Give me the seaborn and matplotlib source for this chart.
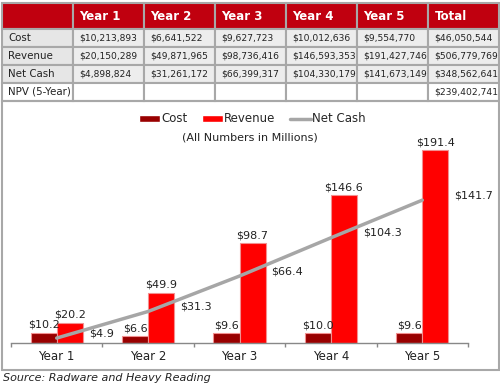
import seaborn as sns
import matplotlib.pyplot as plt
import matplotlib.patches as mpatches
import matplotlib.lines as mlines
import pandas as pd

# DATA
years = ['Year 1', 'Year 2', 'Year 3', 'Year 4', 'Year 5']
cost = [10213893, 6641522, 9627723, 10012636, 9554770]
revenue = [20150289, 49871965, 98736416, 146593353, 191427746]
net_cash = [4898824, 31261172, 66399317, 104330179, 141673149]
npv_5yr = 239402741

COST_COLOR = '#990000'
REV_COLOR = '#FF0000'
LINE_COLOR = '#A6A6A6'

sns.set_theme(style='white')
plt.rcParams['font.family'] = ['DejaVu Sans']

fig = plt.figure(figsize=(5, 3.85), dpi=100)

#######################################
# TABLE
def money(v):
    return f"${v:,}"

rows = [
    ['Cost'] + [money(v) for v in cost] + [money(sum(cost))],
    ['Revenue'] + [money(v) for v in revenue] + [money(sum(revenue))],
    ['Net Cash'] + [money(v) for v in net_cash] + [money(sum(net_cash))],
    ['NPV (5-Year)'] + [''] * 5 + [money(npv_5yr)],
]
header = [''] + years + ['Total']

ax_t = fig.add_axes([0.004, 0.738, 0.994, 0.254])
ax_t.axis('off')
tbl = ax_t.table(cellText=rows, colLabels=header, cellLoc='left',
                 colLoc='left', bbox=[0, 0, 1, 1])
tbl.auto_set_font_size(False)
for (r, c), cell in tbl.get_celld().items():
    cell.set_edgecolor('#A8A8A8')
    cell.set_linewidth(1.5)
    cell.set_height(27 if r == 0 else 18.7)
    cell.set_width(1)
    cell.PAD = 0.09
    if r == 0:
        cell.set_facecolor('#C0000F')
        cell.get_text().set_fontweight('bold')
        cell.get_text().set_fontsize(8.5)
    elif r == 4:
        cell.set_facecolor('white')
        cell.get_text().set_fontsize(6.6 if c > 0 else 7.4)
    else:
        cell.set_facecolor('#E6E6E6' if c == 0 else '#EDEDED')
        cell.get_text().set_fontsize(6.6 if c > 0 else 7.4)
    cell.get_text().set_color('white' if r == 0 else '#222222')

#######################################
# CHART FRAME
frame = mpatches.Rectangle((0.004, 1 - 370 / 385), 0.994, (370 - 101) / 385,
                           transform=fig.transFigure, fill=False,
                           edgecolor='#A8A8A8', linewidth=1.5)
fig.patches.append(frame)

ax = fig.add_axes([0.022, 1 - 343 / 385, 0.914, 242 / 385])

df = pd.DataFrame({
    'year': years * 2,
    'series': ['Cost'] * 5 + ['Revenue'] * 5,
    'value': [v / 1e6 for v in cost] + [v / 1e6 for v in revenue],
})
sns.barplot(data=df, x='year', y='value', hue='series', ax=ax,
            palette={'Cost': COST_COLOR, 'Revenue': REV_COLOR}, saturation=1,
            width=0.57, edgecolor='#F29090', linewidth=0.8, legend=False)

net_m = [v / 1e6 for v in net_cash]
sns.lineplot(x=list(range(5)), y=net_m, ax=ax, color=LINE_COLOR,
             linewidth=2.5, zorder=5)

# bar labels
for cont in ax.containers:
    ax.bar_label(cont, labels=[f"${b.get_height():.1f}" for b in cont],
                 padding=2, fontsize=8, color='#222222')

# line labels
for i, v in enumerate(net_m):
    ax.annotate(f"${v:.1f}", (i, v), xytext=(32, 5), textcoords='offset pixels',
                ha='left', va='center', fontsize=8, color='#222222')

ax.set_xlim(-0.5, 4.5)
ax.set_ylim(0, 240)
ax.set_xlabel('')
ax.set_ylabel('')
ax.set_yticks([])
for s in ['top', 'right', 'left']:
    ax.spines[s].set_visible(False)
ax.spines['bottom'].set_color('#888888')
ax.spines['bottom'].set_linewidth(1)
ax.set_xticks(range(5))
ax.set_xticklabels(years, fontsize=8.5, color='#222222')
ax.tick_params(axis='x', which='major', length=0, pad=5)
ax.set_xticks([x - 0.5 for x in range(6)], minor=True)
ax.tick_params(axis='x', which='minor', length=3, color='#888888', direction='out', bottom=True)
ax.patch.set_alpha(0)

handles = [
    mpatches.Patch(facecolor=COST_COLOR, label='Cost'),
    mpatches.Patch(facecolor=REV_COLOR, label='Revenue'),
    mlines.Line2D([], [], color=LINE_COLOR, linewidth=2.5, label='Net Cash'),
]
fig.legend(handles=handles, loc='center', bbox_to_anchor=(0.505, 1 - 119 / 385),
           ncol=3, frameon=False, fontsize=8.5, handlelength=1.8,
           handleheight=0.6, handletextpad=0.1, columnspacing=1.2)
fig.text(0.5, 1 - 138 / 385, '(All Numbers in Millions)', ha='center',
         va='center', fontsize=8, color='#222222')

fig.text(0.006, 1 - 378 / 385, 'Source: Radware and Heavy Reading',
         ha='left', va='center', fontsize=8, style='italic', color='#222222')

fig.savefig('out.png', dpi=100)
